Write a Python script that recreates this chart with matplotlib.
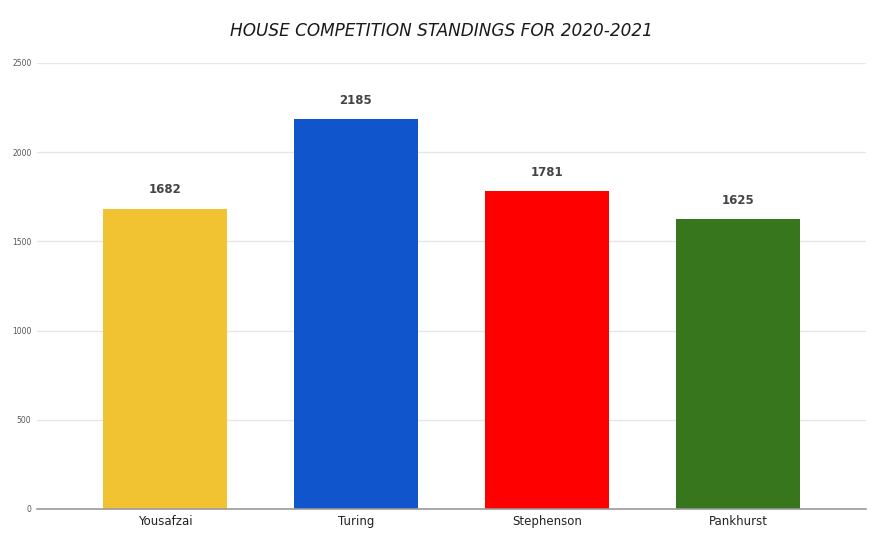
import matplotlib
matplotlib.use("Agg")
import matplotlib.pyplot as plt

# 데이터
houses = ["Yousafzai", "Turing", "Stephenson", "Pankhurst"]
points = [1682, 2185, 1781, 1625]
colors = ["#F1C232", "#1155CC", "#FF0000", "#38761D"]
yticks = [0, 500, 1000, 1500, 2000, 2500]

fig = plt.figure(figsize=(8.93, 5.52), dpi=100)
ax = fig.add_axes([0.0414, 0.0779, 0.9284, 0.808])

x = list(range(len(houses)))
bars = ax.bar(x, points, width=0.65, color=colors, zorder=3)

for b, v in zip(bars, points):
    ax.annotate(str(v), (b.get_x() + b.get_width() / 2, v),
                xytext=(0, 9), textcoords="offset points",
                ha="center", va="bottom", fontsize=8.5, fontweight="bold",
                color="#444444")

ax.set_xlim(-0.67, 3.67)
ax.set_ylim(0, 2500)
ax.set_yticks(yticks)
ax.set_yticklabels([str(t) for t in yticks], fontsize=5.5, color="#555555")
ax.set_xticks(x)
ax.set_xticklabels(houses, fontsize=8.5, color="#222222")
ax.tick_params(axis="both", length=0, pad=4)
ax.tick_params(axis="x", pad=4)

ax.grid(axis="y", color="#e6e6e6", linewidth=1, zorder=0)
for s in ["top", "right", "left"]:
    ax.spines[s].set_visible(False)
ax.spines["bottom"].set_color("#9a9a9a")
ax.spines["bottom"].set_linewidth(1.2)
ax.spines["bottom"].set_zorder(4)

fig.text(0.494, 0.943, "HOUSE COMPETITION STANDINGS FOR 2020-2021",
         ha="center", va="center", fontsize=12.2, style="italic", color="#1a1a1a")

fig.savefig("out.png", dpi=100)
